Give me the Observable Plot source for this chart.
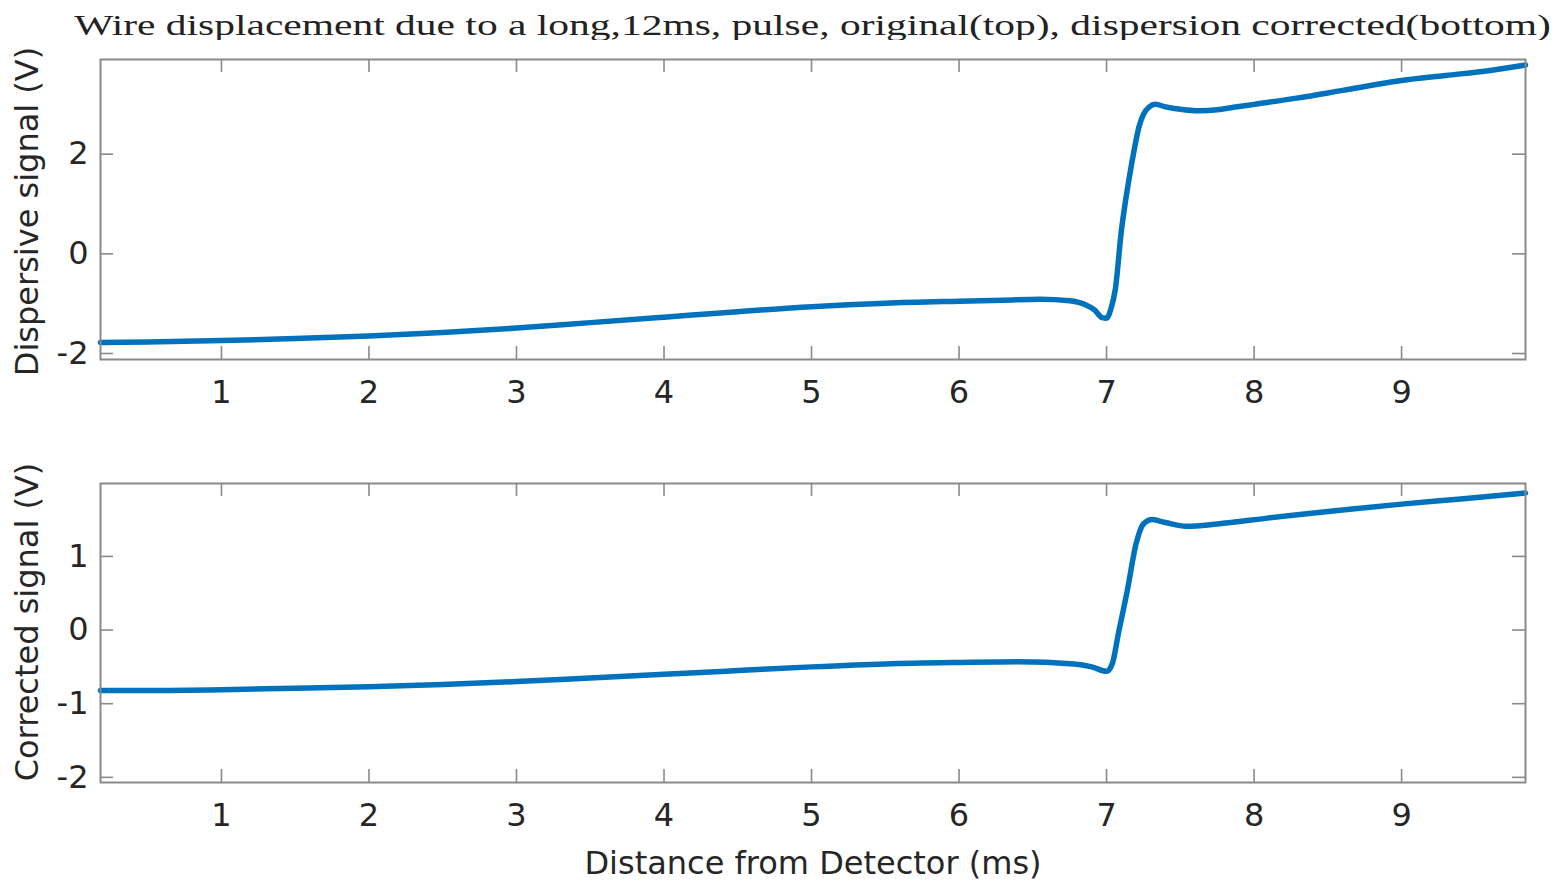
<!DOCTYPE html>
<html>
<head>
<meta charset="utf-8">
<script src="https://cdn.jsdelivr.net/npm/d3@7"></script>
<script src="https://cdn.jsdelivr.net/npm/@observablehq/plot@0.6"></script>
<style>
  html, body { margin: 0; padding: 0; background: #fff; }
  #wrap { position: relative; width: 1563px; height: 885px; background: #fff; overflow: hidden; }
  #title { position: absolute; left: 100px; width: 1425px; top: 8px; text-align: center;
           font-family: "Liberation Serif", "DejaVu Serif", serif; font-size: 30px; color: #222; white-space: nowrap;
           transform: scaleX(1.383); transform-origin: 50% 50%; }
  #p1 { position: absolute; left: 0; top: 40px; }
  #p2 { position: absolute; left: 0; top: 463px; }
</style>
</head>
<body>
<div id="wrap">
  <div id="title"></div>
  <div id="p1"></div>
  <div id="p2"></div>
</div>
<script>
// ---- data ----
const titleText = "Wire displacement due to a long,12ms, pulse, original(top), dispersion corrected(bottom)";
const xLabel = "Distance from Detector (ms)";
const topYLabel = "Dispersive signal (V)";
const bottomYLabel = "Corrected signal (V)";

const xTicks = [1, 2, 3, 4, 5, 6, 7, 8, 9];
const topYTicks = [-2, 0, 2];
const bottomYTicks = [-2, -1, 0, 1];

const topX = [0.18, 0.5, 1, 1.5, 2, 2.5, 3, 3.5, 4, 4.5, 5, 5.5, 6, 6.3, 6.55, 6.75, 6.85, 6.92, 6.97, 7.0, 7.03, 7.06, 7.1, 7.15, 7.19, 7.22, 7.25, 7.29, 7.33, 7.4, 7.5, 7.63, 7.75, 7.86, 8.0, 8.3, 8.6, 9.0, 9.3, 9.6, 9.84];
const topY = [-1.78, -1.77, -1.74, -1.7, -1.65, -1.58, -1.49, -1.38, -1.27, -1.16, -1.06, -0.99, -0.95, -0.93, -0.91, -0.94, -1.01, -1.13, -1.28, -1.29, -1.1, -0.7, 0.45, 1.46, 2.13, 2.55, 2.8, 2.95, 3.0, 2.95, 2.9, 2.87, 2.89, 2.94, 3.0, 3.13, 3.28, 3.48, 3.58, 3.68, 3.79];

const botX = [0.18, 0.5, 1, 1.5, 2, 2.5, 3, 3.5, 4, 4.5, 5, 5.5, 6, 6.4, 6.78, 6.9, 7.0, 7.04, 7.08, 7.14, 7.2, 7.25, 7.31, 7.4, 7.54, 7.75, 8.09, 8.31, 8.6, 9.0, 9.4, 9.84];
const botY = [-0.82, -0.82, -0.81, -0.79, -0.77, -0.74, -0.7, -0.65, -0.6, -0.55, -0.5, -0.46, -0.44, -0.43, -0.46, -0.5, -0.56, -0.45, -0.05, 0.53, 1.17, 1.44, 1.5, 1.46, 1.41, 1.44, 1.52, 1.57, 1.63, 1.71, 1.78, 1.86];

const xDomain = [0.18, 9.84];
const topYDomain = [-2.12, 3.9];
const bottomYDomain = [-2.07, 1.99];

// ---- drawing ----
document.getElementById("title").textContent = titleText;

const W = 1563, ML = 100, MR = 38;
const frameW = W - ML - MR;
const tickLen = 13;
const axisColor = "#8a8a8a";
const lineColor = "#0072BD";
const fmt = d => String(d);
const fontStyle = {fontFamily: "'DejaVu Sans', 'Liberation Sans', Arial, sans-serif", fontSize: "32px", color: "#262626", background: "#fff", overflow: "visible"};

function panel({xs, ys, yDomain, yTicks, yLabel, labelDy, frameH, marginTop, marginBottom, withXLabel}) {
  const rows = xs.map((x, i) => ({x, y: ys[i]}));
  const marks = [
    Plot.line(rows, {x: "x", y: "y", stroke: lineColor, strokeWidth: 5.5, curve: "monotone-x"}),
    Plot.frame({stroke: axisColor, strokeWidth: 2}),
    // inward ticks on all four sides
    Plot.tickX(xTicks, {x: d => d, insetTop: frameH - tickLen, stroke: axisColor, strokeWidth: 1.6}),
    Plot.tickX(xTicks, {x: d => d, insetBottom: frameH - tickLen, stroke: axisColor, strokeWidth: 1.6}),
    Plot.tickY(yTicks, {y: d => d, insetRight: frameW - tickLen, stroke: axisColor, strokeWidth: 1.6}),
    Plot.tickY(yTicks, {y: d => d, insetLeft: frameW - tickLen, stroke: axisColor, strokeWidth: 1.6}),
    Plot.axisX(xTicks, {anchor: "bottom", tickSize: 0, tickPadding: 21, tickFormat: fmt, label: null}),
    Plot.axisY(yTicks, {anchor: "left", tickSize: 0, tickPadding: 12, tickFormat: fmt, label: null}),
    Plot.text([yLabel], {text: d => d, frameAnchor: "left", rotate: -90, dx: -85, dy: labelDy, lineAnchor: "top", textAnchor: "middle", fill: "#262626"})
  ];
  if (withXLabel) {
    marks.push(Plot.text([xLabel], {text: d => d, frameAnchor: "bottom", dy: 69, lineAnchor: "top", textAnchor: "middle", fill: "#262626"}));
  }
  return Plot.plot({
    width: W,
    height: marginTop + frameH + marginBottom,
    marginLeft: ML, marginRight: MR, marginTop, marginBottom,
    style: fontStyle,
    x: {domain: xDomain, axis: null},
    y: {domain: yDomain, axis: null},
    marks
  });
}

document.getElementById("p1").append(panel({
  xs: topX, ys: topY, yDomain: topYDomain, yTicks: topYTicks, yLabel: topYLabel, labelDy: 2,
  frameH: 300, marginTop: 19, marginBottom: 50, withXLabel: false
}));
document.getElementById("p2").append(panel({
  xs: botX, ys: botY, yDomain: bottomYDomain, yTicks: bottomYTicks, yLabel: bottomYLabel, labelDy: -11,
  frameH: 299, marginTop: 20, marginBottom: 103, withXLabel: true
}));
</script>
</body>
</html>
